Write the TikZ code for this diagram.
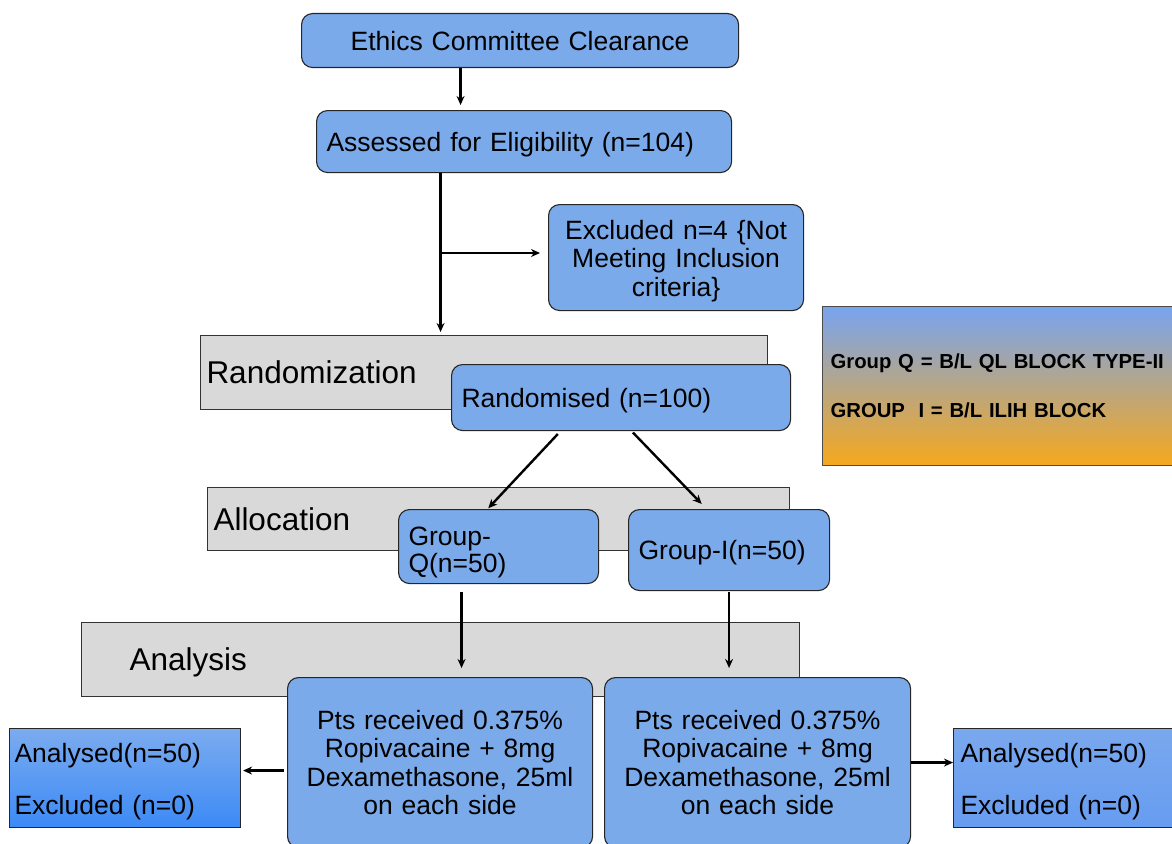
\documentclass[tikz,border=0pt]{standalone}
\usepackage{fontspec}
\setmainfont{Liberation Sans}
\usetikzlibrary{arrows.meta}
\definecolor{boxblue}{RGB}{123,170,234}
\definecolor{lgtop}{RGB}{120,164,240}
\definecolor{lgbot}{RGB}{246,168,28}
\definecolor{anltop}{RGB}{123,171,239}
\definecolor{anlbot}{RGB}{60,138,246}
\definecolor{anrtop}{RGB}{122,168,238}
\definecolor{anrbot}{RGB}{102,156,240}
\newcommand{\mainfnt}{\fontsize{26.5}{28.5}\selectfont}
\newcommand{\lblfnt}{\fontsize{31.5}{34}\selectfont}
\newcommand{\lgfnt}{\fontsize{20.3}{25}\selectfont\bfseries}
\newcommand{\lift}[1]{\rule{0pt}{#1}}
\begin{document}
\begin{tikzpicture}[x=1pt,y=-1pt,
  bx/.style={draw=black!85, line width=1.1pt, rounded corners=11pt, fill=boxblue, font=\mainfnt, inner ysep=0pt, anchor=north west},
  rbx/.style={draw=black!85, line width=1.1pt, font=\mainfnt, inner ysep=0pt, anchor=north west, align=left},
  gr/.style={draw=black!80, line width=1pt, fill=black!15, font=\lblfnt, inner ysep=0pt, anchor=north west, align=left, text depth=0pt},
  arr/.style={line width=2.4pt, -{Stealth[length=9pt,width=8pt]}}]
\useasboundingbox (0,0) rectangle (1172,843);
% gray phase boxes
\node[gr, inner xsep=6pt, text width=555pt, minimum height=74pt] (randz) at (200,335) {Randomization};
\node[gr, inner xsep=6pt, text width=570pt, minimum height=63pt] (alloc) at (207,487) {Allocation};
\node[gr, inner xsep=48pt, text width=622pt, minimum height=74pt] (analysis) at (81,622) {Analysis};
% blue boxes
\node[bx, inner xsep=0pt, text width=437pt, align=center, minimum height=54pt] (ethics) at (301,13) {Ethics Committee Clearance};
\node[bx, text depth=0pt, inner xsep=10pt, text width=395pt, align=left, minimum height=62pt] (assessed) at (316,110) {Assessed for Eligibility (n=104)};
\node[bx, inner xsep=5pt, text width=245pt, align=center, minimum height=106pt] (excluded) at (548,204) {\lift{26pt}Excluded n=4 \{Not\\Meeting Inclusion\\criteria\}};
\node[bx, text depth=0pt, inner xsep=10pt, text width=319pt, align=left, minimum height=66pt] (randomised) at (451,364) {Randomised (n=100)};
\node[bx, inner xsep=10pt, text width=180pt, align=left, minimum height=74pt] (groupQ) at (398,509) {\lift{30pt}Group-\\[-1.5pt]Q(n=50)};
\node[bx, text depth=0pt, inner xsep=10pt, text width=181pt, align=left, minimum height=81pt] (groupI) at (628,509) {Group-I(n=50)};
\node[bx, inner xsep=5pt, text width=295pt, align=center, minimum height=170pt] (pts1) at (287,677) {Pts received 0.375\%\\Ropivacaine + 8mg\\Dexamethasone, 25ml\\on each side};
\node[bx, inner xsep=5pt, text width=296pt, align=center, minimum height=170pt] (pts2) at (604,677) {Pts received 0.375\%\\Ropivacaine + 8mg\\Dexamethasone, 25ml\\on each side};
\node[rbx, top color=anltop, bottom color=anlbot, inner xsep=5pt, text width=221pt, minimum height=99pt] (anL) at (9,728) {\lift{26pt}Analysed(n=50)\\[23.5pt]Excluded (n=0)};
\node[rbx, top color=anrtop, bottom color=anrbot, inner xsep=7pt, text width=226pt, minimum height=99pt] (anR) at (953,728) {\lift{26pt}Analysed(n=50)\\[23.5pt]Excluded (n=0)};
\node[rbx, draw=black!70, top color=lgtop, bottom color=lgbot, font=\lgfnt, inner xsep=8pt, text width=354pt, minimum height=159pt] (legend) at (822,306) {Group Q = B/L QL BLOCK TYPE-II\\[24pt]GROUP\ \ I = B/L ILIH BLOCK};
% connectors
\draw[arr, shorten >=5pt] ([xshift=-59.5pt]ethics.south) -- ([xshift=-59.5pt]ethics.south |- assessed.north);
\draw[line width=2.4pt] ([xshift=-83.5pt]assessed.south) -- ([xshift=-83.5pt]assessed.south |- 0,253) coordinate (br);
\draw[arr, shorten >=3pt] (br) -- ([xshift=-83.5pt]assessed.south |- randz.north);
\draw[arr, shorten >=8pt] (br) -- (br -| excluded.west);
\draw[arr, shorten <=4pt, shorten >=1pt] ([xshift=-60.5pt]randomised.south) -- ([xshift=-11pt]groupQ.north);
\draw[arr, shorten <=2pt, shorten >=7pt] ([xshift=10.5pt]randomised.south) -- ([xshift=-22.5pt]groupI.north);
\draw[arr, shorten <=8pt, shorten >=9pt] ([xshift=-37pt]groupQ.south) -- ([xshift=-37pt]groupQ.south |- pts1.north);
\draw[arr, shorten <=1pt, shorten >=9pt] (groupI.south) -- (groupI.south |- pts2.north);
\draw[arr, shorten <=3pt, shorten >=2pt] ([yshift=-8pt]pts1.west) -- ([yshift=-8pt]pts1.west -| anL.east);
\draw[arr] (pts2.east) -- (pts2.east -| anR.west);
\end{tikzpicture}
\end{document}
